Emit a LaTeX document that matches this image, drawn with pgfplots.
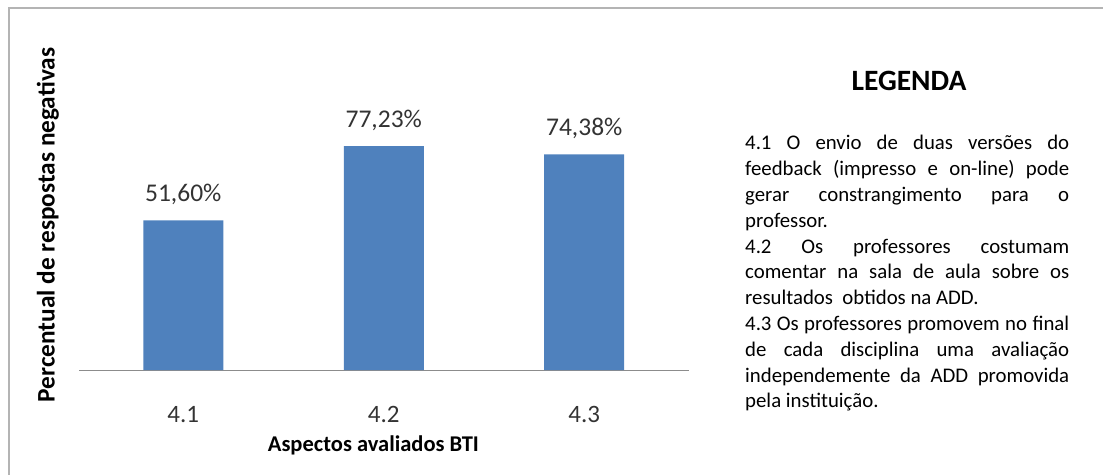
\documentclass[border=0pt]{standalone}
\usepackage{pgfplots}
\pgfplotsset{compat=1.18}
\usepackage{fontspec}
\setmainfont{Carlito}
\definecolor{barblue}{HTML}{4F81BD}
\definecolor{axisgray}{HTML}{8C8C8C}
\definecolor{framegray}{HTML}{B4B4B4}
\definecolor{numgray}{HTML}{333333}

\begin{document}
\begin{tikzpicture}[x=1pt,y=1pt]
\useasboundingbox (0,0) rectangle (1103,474);
% outer chart frame
\draw[framegray, line width=1.2pt] (9,-5) -- (9,466) -- (1110,466);

\begin{axis}[
  at={(79pt,104pt)}, anchor=south west,
  scale only axis, width=609.5pt, height=290pt,
  xmin=-0.52, xmax=2.52, ymin=0, ymax=100,
  axis x line=bottom, axis y line=left,
  axis line style={-},
  x axis line style={axisgray, line width=1pt},
  y axis line style={draw=none},
  ytick=\empty,
  xtick={0,1,2}, xticklabels={4.1,4.2,4.3},
  major tick length=0pt,
  xticklabel style={font=\fontsize{25}{29}\selectfont, text=numgray, anchor=center, yshift=-44.5pt},
  ybar, bar width=80pt,
  nodes near coords={\pgfmathprintnumber[fixed, fixed zerofill, precision=2, use comma]{\pgfplotspointmeta}\%},
  every node near coord/.append style={font=\fontsize{25.5}{29}\selectfont, text=numgray, anchor=center, yshift=26pt},
  /pgf/number format/assume math mode=true,
  xlabel={Aspectos avaliados BTI},
  xlabel style={font=\fontsize{22.5}{26}\selectfont\bfseries, at={(axis description cs:0.483,-0.2586)}, anchor=center},
  ylabel={Percentual de respostas negativas},
  ylabel style={font=\fontsize{25.3}{29}\selectfont\bfseries, at={(axis description cs:-0.0509,0.5)}, anchor=center},
  clip=false,
]
\addplot[fill=barblue, draw=none] coordinates {(0,51.60) (1,77.23) (2,74.38)};
\end{axis}

% legend block
\node[font=\fontsize{29.5}{34}\selectfont\bfseries, anchor=center] at (909,393) {LEGENDA};
\begin{scope}[every node/.style={anchor=base west, inner sep=0pt, font=\fontsize{20.8}{24}\selectfont}]
\node at (745,324.0) {\makebox[324pt][s]{4.1 O envio de duas versões do}};
\node at (745,298.2) {\makebox[324pt][s]{feedback (impresso e on-line) pode}};
\node at (745,272.4) {\makebox[324pt][s]{gerar constrangimento para o}};
\node at (745,246.6) {professor.};
\node at (745,220.8) {\makebox[324pt][s]{4.2 Os professores costumam}};
\node at (745,195.0) {\makebox[324pt][s]{comentar na sala de aula sobre os}};
\node at (745,169.2) {resultados \ obtidos na ADD.};
\node at (745,143.4) {\makebox[324pt][s]{4.3 Os professores promovem no final}};
\node at (745,117.6) {\makebox[324pt][s]{de cada disciplina uma avaliação}};
\node at (745,91.8) {\makebox[324pt][s]{independemente da ADD promovida}};
\node at (745,66.0) {pela instituição.};
\end{scope}
\end{tikzpicture}
\end{document}
